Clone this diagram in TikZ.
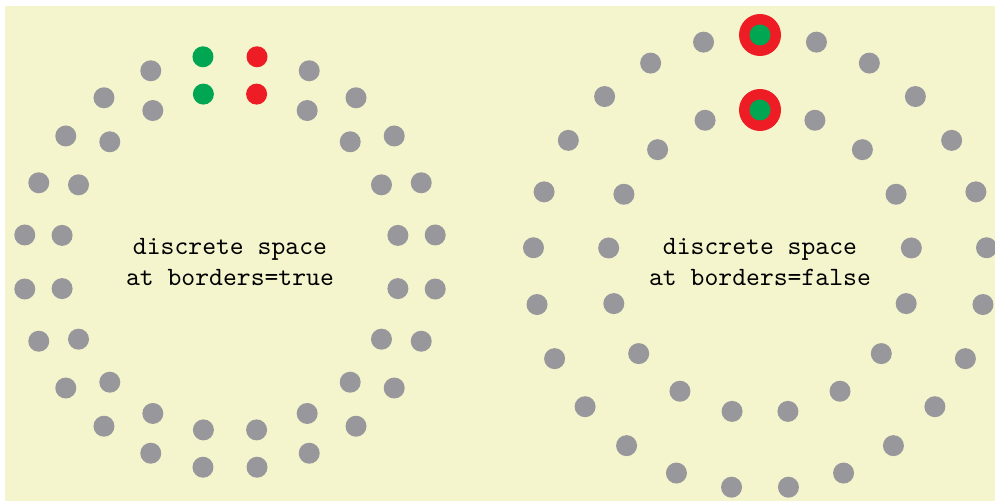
\documentclass[tikz,border=0pt]{standalone}
\usepackage{tikz}
\definecolor{dotgray}{HTML}{97979C}
\definecolor{dotgreen}{HTML}{00A651}
\definecolor{dotred}{HTML}{EE1C24}
\definecolor{bgyellow}{HTML}{F4F5CD}

\begin{document}
\begin{tikzpicture}[x=0.3788pt,y=0.3788pt]
            \useasboundingbox (0,0) rectangle (995,501);
            \fill[bgyellow] (5,0) rectangle (995,495);
            % left: at borders=true
            \begin{scope}[shift={(230,239)}]
                \foreach \k in {1,...,22}
                    \fill[dotgray] (97.5+15*\k:207) circle (10.5);
                \foreach \k in {1,...,18}
                    \fill[dotgray] (99+18*\k:170) circle (10.5);
                \fill[dotgreen] (97.5:207) circle (10.5);
                \fill[dotred] (82.5:207) circle (10.5);
                \fill[dotgreen] (99:170) circle (10.5);
                \fill[dotred] (81:170) circle (10.5);
                \node[align=center, font=\ttfamily] (true-label) at (0,0) {discrete space\\at borders=true};
            \end{scope}
            % right: at borders=false
            \begin{scope}[shift={(760,239)}]
                \foreach \k in {1,...,24}
                    \fill[dotgray] (90+14.4*\k:227) circle (10.5);
                \foreach \k in {1,...,16}
                    \fill[dotgray] (90+21.1765*\k:152) circle (10.5);
                \fill[dotred] (90:227) circle (21);
                \fill[dotgreen] (90:227) circle (10.5);
                \fill[dotred] (90:152) circle (21);
                \fill[dotgreen] (90:152) circle (10.5);
                \node[align=center, font=\ttfamily] (false-label) at (0,0) {discrete space\\at borders=false};
            \end{scope}
        \end{tikzpicture}
\end{document}
